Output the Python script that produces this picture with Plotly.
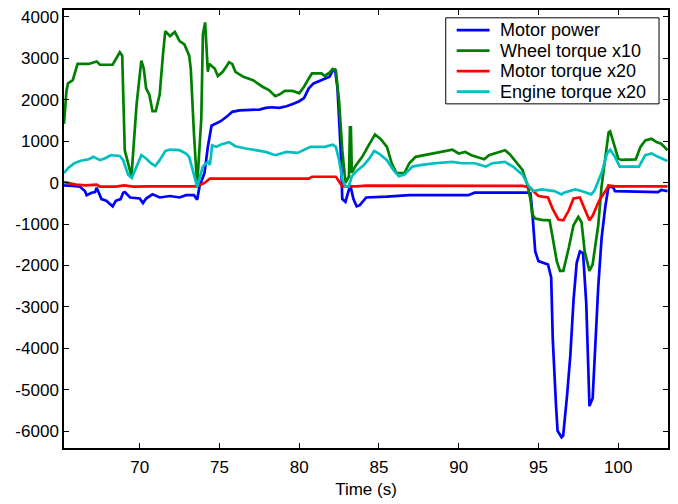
import plotly.graph_objects as go

# Motor power
t_power = [65.25, 65.3, 66.0, 66.25, 66.56, 66.67, 66.98, 67.2, 67.3, 67.6, 67.9, 68.3, 68.5,
           68.8, 68.96, 69.06, 69.4, 70.0, 70.2, 70.4, 70.8, 71.25, 71.9, 72.5, 72.9, 73.4,
           73.6, 73.75, 74.06, 74.27, 74.5, 74.8, 75.1, 75.5, 75.8, 76.25, 77.5, 77.9, 78.25,
           78.75, 79.2, 79.6, 80.0, 80.3, 80.6, 80.9, 81.35, 81.9, 82.1, 82.25, 82.4, 82.6,
           82.7, 82.9, 83.0, 83.2, 83.4, 83.6, 83.8, 84.2, 85.5, 86.9, 90.6, 91.0, 94.3,
           94.5, 94.6, 94.7, 94.8, 95.0, 95.3, 95.6, 95.8, 95.9, 96.1, 96.2, 96.45, 96.55,
           96.8, 97.0, 97.2, 97.4, 97.6, 97.8, 98.0, 98.2, 98.4, 98.75, 98.96, 99.2, 99.4,
           99.7, 99.8, 102.5, 102.7, 103.1]
power = [-50, -70, -87, -100, -205, -305, -245, -230, -125, -400, -440, -575, -440,
         -400, -245, -230, -360, -385, -495, -385, -285, -360, -325, -360, -305, -305,
         -415, -87, 230, 860, 1370, 1420, 1485, 1605, 1705, 1740, 1760, 1800, 1815,
         1800, 1840, 1895, 1960, 2035, 2270, 2390, 2470, 2550, 2700, 2720, 2270, 780,
         -400, -465, -325, -60, -400, -575, -545, -360, -340, -305, -305, -245, -245,
         -260, -640, -1190, -1660, -1895, -1935, -1975, -2290, -3780, -5355, -5985, -6140, -6100,
         -5120, -4175, -2840, -1935, -1660, -1700, -2920, -5390, -5200, -2520, -1345, -560, -87,
         -125, -205, -230, -180, -205]

# Wheel torque (scaled x10)
t_wheel = [65.25, 65.4, 65.5, 65.8, 66.1, 66.8, 67.3, 67.5, 68.3, 68.5, 68.75, 68.9, 69.06,
           69.27, 69.48, 69.8, 70.1, 70.25, 70.4, 70.6, 70.8, 71.0, 71.25, 71.45, 71.6, 71.9,
           72.2, 72.5, 72.8, 73.1, 73.2, 73.4, 73.6, 73.86, 73.96, 74.1, 74.27, 74.35, 74.7,
           74.9, 75.2, 75.4, 75.6, 75.8, 76.0, 76.5, 77.1, 77.7, 78.1, 78.5, 78.75, 79.1,
           79.6, 80.0, 80.3, 80.6, 80.8, 81.4, 81.6, 81.9, 82.1, 82.3, 82.5, 82.7, 82.9,
           83.12, 83.18, 83.24, 83.3, 83.5, 83.95, 84.3, 84.75, 85.1, 85.5, 85.8, 86.1, 86.6,
           86.9, 87.3, 88.1, 89.0, 89.6, 90.0, 90.4, 90.8, 91.6, 91.9, 92.4, 92.9, 93.2,
           93.5, 94.0, 94.3, 94.5, 94.6, 94.8, 95.2, 95.7, 95.9, 96.15, 96.35, 96.56, 96.9,
           97.2, 97.5, 97.7, 97.9, 98.2, 98.4, 98.75, 98.96, 99.2, 99.4, 99.5, 99.8, 100.0,
           100.2, 101.1, 101.4, 101.7, 102.1, 102.4, 102.7, 103.1]
wheel = [1416, 2195, 2390, 2470, 2860, 2860, 2920, 2840, 2840, 2980, 3140, 3060, 780,
         465, 150, 1880, 2940, 2750, 2270, 2120, 1720, 1720, 2120, 3060, 3650, 3530,
         3630, 3410, 3330, 3060, 2740, 1170, -90, 1560, 3570, 3860, 2670, 2860, 2750,
         2570, 2670, 2780, 2900, 2860, 2670, 2550, 2470, 2310, 2230, 2080, 2120, 2210,
         2210, 2150, 2310, 2510, 2630, 2630, 2570, 2650, 2740, 2700, 1960, 780, -10,
         150, 1330, 1330, 230, 385, 620, 860, 1160, 1050, 860, 465, 230, 230,
         465, 620, 685, 760, 795, 700, 740, 660, 560, 660, 715, 780, 685,
         540, 305, -50, -400, -755, -870, -900, -910, -1345, -1895, -2130, -2130, -1580,
         -1030, -830, -950, -1660, -2130, -1970, -1030, -90, 620, 1210, 1235, 860, 580,
         545, 560, 860, 1015, 1055, 975, 935, 780]

# Motor torque (scaled x20)
t_motor = [65.25, 66.0, 66.6, 67.3, 67.5, 68.5, 69.0, 69.6, 70.6, 73.6, 74.06, 74.4, 80.6,
           80.8, 82.3, 82.5, 82.7, 83.6, 84.2, 94.0, 94.4, 95.0, 95.6, 95.9, 96.25, 96.56,
           96.9, 97.2, 97.6, 97.9, 98.2, 98.4, 98.8, 99.2, 99.4, 99.8, 103.1]
motor = [10, -50, -70, -50, -100, -100, -70, -100, -90, -90, -10, 95, 95,
         140, 140, 30, -90, -90, -75, -80, -110, -325, -360, -640, -890, -910,
         -675, -385, -360, -640, -910, -800, -440, -205, -70, -90, -90]

# Engine torque (scaled x20)
t_engine = [65.25, 65.5, 65.9, 66.3, 66.8, 67.1, 67.5, 67.8, 68.2, 68.75, 68.96, 69.27, 69.5,
            69.8, 70.1, 70.4, 70.7, 70.97, 71.25, 71.6, 71.9, 72.5, 72.9, 73.1, 73.3, 73.6,
            73.96, 74.27, 74.4, 74.54, 74.8, 75.1, 75.6, 76.0, 76.65, 77.3, 77.9, 78.5, 79.2,
            79.9, 80.3, 80.7, 81.6, 82.1, 82.3, 82.5, 82.7, 82.9, 83.1, 83.3, 83.6, 84.06,
            84.4, 84.7, 85.0, 85.5, 85.9, 86.25, 86.6, 87.1, 87.7, 88.5, 89.6, 90.2, 91.0,
            91.7, 92.1, 92.9, 93.4, 94.0, 94.4, 94.7, 95.2, 96.0, 96.45, 96.6, 97.3, 97.7,
            98.3, 98.5, 98.96, 99.3, 99.5, 99.8, 100.1, 100.6, 101.3, 101.7, 102.1, 102.5, 103.1]
engine = [230, 345, 465, 525, 560, 620, 540, 580, 660, 640, 540, 190, 110,
          385, 660, 580, 465, 400, 540, 760, 795, 780, 700, 620, 305, -100,
          385, 500, 425, 895, 860, 920, 975, 875, 820, 780, 740, 660, 740,
          715, 795, 860, 860, 910, 860, 540, 70, -90, -100, 150, 280, 425,
          580, 760, 700, 540, 305, 150, 190, 385, 425, 465, 500, 465, 465,
          385, 465, 500, 385, 190, -90, -205, -165, -205, -285, -245, -165, -205,
          -285, -205, 230, 700, 790, 620, 385, 385, 385, 660, 700, 620, 520]

series = [
    ("Motor power", t_power, power, "#0000FF"),
    ("Wheel torque x10", t_wheel, wheel, "#008000"),
    ("Motor torque x20", t_motor, motor, "#FF0000"),
    ("Engine torque x20", t_engine, engine, "#00BFBF"),
]

x_ticks = [70, 75, 80, 85, 90, 95, 100]
y_ticks = [-6000, -5000, -4000, -3000, -2000, -1000, 0, 1000, 2000, 3000, 4000]

W, H = 678, 504
ML, MR, MT, MB = 64, 8, 8, 48
PW, PH = W - ML - MR, H - MT - MB


def px_to_paper(px, py):
    return (px - ML) / PW, (H - MB - py) / PH


fig = go.Figure()
for name, t, v, color in series:
    fig.add_trace(go.Scatter(x=t, y=v, name=name, mode="lines", showlegend=False,
                             line=dict(color=color, width=2.7)))

font = dict(family="Liberation Sans, Arial, sans-serif", size=17, color="#000000")
key_font = dict(family="Liberation Sans, Arial, sans-serif", size=18, color="#000000")

axis_common = dict(
    showline=True, linecolor="#000000", linewidth=1.5, mirror="allticks",
    ticks="inside", ticklen=5, tickwidth=1, tickcolor="#000000",
    showgrid=False, zeroline=False, tickfont=font,
)

# Boxed key in the upper right corner
shapes = []
annotations = []
bx0, by0 = px_to_paper(447, 16)
bx1, by1 = px_to_paper(661, 104)
shapes.append(dict(type="rect", xref="paper", yref="paper", x0=bx0, x1=bx1, y0=by1, y1=by0,
                   line=dict(color="#000000", width=1), fillcolor="#FFFFFF", layer="above"))
for i, (name, _, _, color) in enumerate(series):
    row_y = 28.5 + 21 * i
    lx0, ly = px_to_paper(458, row_y)
    lx1, _ = px_to_paper(491, row_y)
    shapes.append(dict(type="line", xref="paper", yref="paper", x0=lx0, x1=lx1, y0=ly, y1=ly,
                       line=dict(color=color, width=2.7), layer="above"))
    tx, _ = px_to_paper(499, row_y)
    annotations.append(dict(text=name, xref="paper", yref="paper", x=tx, y=ly,
                            xanchor="left", yanchor="middle", showarrow=False,
                            font=key_font))

fig.update_layout(
    width=W, height=H,
    margin=dict(l=ML, r=MR, t=MT, b=MB),
    paper_bgcolor="#FFFFFF", plot_bgcolor="#FFFFFF",
    font=font,
    showlegend=False,
    shapes=shapes,
    annotations=annotations,
    xaxis=dict(range=[65.25, 103.125], tickvals=x_ticks, ticktext=[str(v) for v in x_ticks],
               ticklabelstandoff=3,
               title=dict(text="Time (s)", font=font, standoff=7), **axis_common),
    yaxis=dict(range=[-6400, 4160], tickvals=y_ticks, ticktext=[str(v) for v in y_ticks],
               **axis_common),
)

fig.write_html("out.html")
